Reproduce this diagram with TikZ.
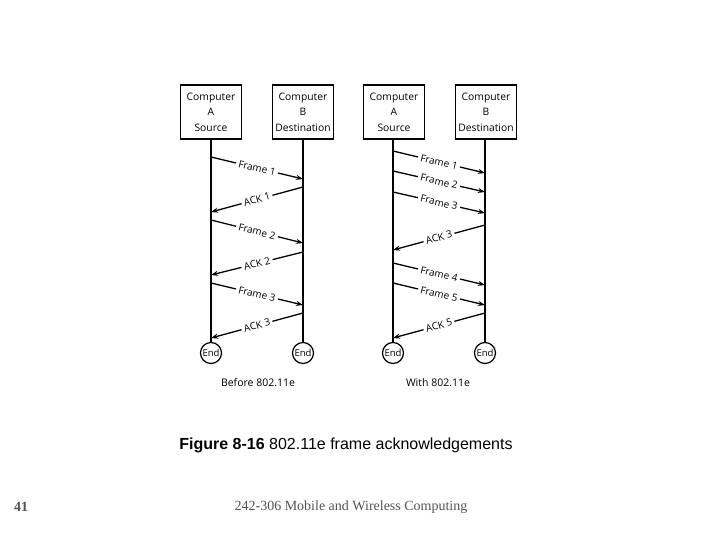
\documentclass[tikz,border=0pt]{standalone}
\usepackage{fontspec}
\setmainfont{Liberation Serif}
\newfontfamily\diagfont{Open Sans}
\newfontfamily\capfont{Liberation Sans}
\usetikzlibrary{arrows.meta}
\definecolor{footgray}{RGB}{90,82,82}
\tikzset{
  compbox/.style={draw, line width=1.6pt, minimum width=61pt, minimum height=54pt, align=center,
    font=\diagfont\fontsize{10.3}{15.5}\selectfont, inner sep=0pt},
  endnode/.style={draw, circle, line width=1.2pt, minimum size=21pt, inner sep=0pt,
    font=\diagfont\fontsize{9.5}{10}\selectfont},
  lifeline/.style={line width=1.5pt},
  msg/.style={line width=1.3pt, -{Stealth[length=7pt,width=5pt]}},
  msglabel/.style={midway, sloped, fill=white, inner xsep=2.5pt, inner ysep=0.5pt,
    font=\diagfont\fontsize{10}{10}\selectfont},
  subcap/.style={font=\diagfont\fontsize{10.5}{11}\selectfont},
}
\begin{document}
\begin{tikzpicture}[x=1pt,y=-1pt]
\useasboundingbox (0,0) rectangle (720,540);
% left diagram
\node[compbox] (lA) at (211,112) {Computer\\A\\Source};
\node[compbox] (lB) at (303,112) {Computer\\B\\Destination};
\node[endnode] (lAe) at (211,353) {End};
\node[endnode] (lBe) at (303,353) {End};
\draw[lifeline] (lA.south) -- (lAe.north);
\draw[lifeline] (lB.south) -- (lBe.north);
\coordinate (la1) at (211,157); \coordinate (lb1) at (303,179);
\coordinate (lb2) at (303,187); \coordinate (la2) at (211,212);
\coordinate (la3) at (211,220); \coordinate (lb3) at (303,243);
\coordinate (lb4) at (303,252); \coordinate (la4) at (211,275);
\coordinate (la5) at (211,283); \coordinate (lb5) at (303,305);
\coordinate (lb6) at (303,313); \coordinate (la6) at (211,338);
\draw[msg] (la1) -- node[msglabel]{Frame 1} (lb1);
\draw[msg] (lb2) -- node[msglabel]{ACK 1} (la2);
\draw[msg] (la3) -- node[msglabel]{Frame 2} (lb3);
\draw[msg] (lb4) -- node[msglabel]{ACK 2} (la4);
\draw[msg] (la5) -- node[msglabel]{Frame 3} (lb5);
\draw[msg] (lb6) -- node[msglabel]{ACK 3} (la6);
\node[subcap] (lcap) at (258,383) {Before 802.11e};
% right diagram
\node[compbox] (rA) at (394,112) {Computer\\A\\Source};
\node[compbox] (rB) at (486,112) {Computer\\B\\Destination};
\node[endnode] (rAe) at (393,353) {End};
\node[endnode] (rBe) at (485,353) {End};
\draw[lifeline] (rA.south -| rAe) -- (rAe.north);
\draw[lifeline] (rB.south -| rBe) -- (rBe.north);
\coordinate (ra1) at (393,151); \coordinate (rb1) at (485,173);
\coordinate (ra2) at (393,171); \coordinate (rb2) at (485,192);
\coordinate (ra3) at (393,192); \coordinate (rb3) at (485,213);
\coordinate (rb4) at (485,225); \coordinate (ra4) at (393,250);
\coordinate (ra5) at (393,263); \coordinate (rb5) at (485,285);
\coordinate (ra6) at (393,283); \coordinate (rb6) at (485,305);
\coordinate (rb7) at (485,313); \coordinate (ra7) at (393,338);
\draw[msg] (ra1) -- node[msglabel]{Frame 1} (rb1);
\draw[msg] (ra2) -- node[msglabel]{Frame 2} (rb2);
\draw[msg] (ra3) -- node[msglabel]{Frame 3} (rb3);
\draw[msg] (rb4) -- node[msglabel]{ACK 3} (ra4);
\draw[msg] (ra5) -- node[msglabel]{Frame 4} (rb5);
\draw[msg] (ra6) -- node[msglabel]{Frame 5} (rb6);
\draw[msg] (rb7) -- node[msglabel]{ACK 5} (ra7);
\node[subcap] (rcap) at (438,383) {With 802.11e};
% caption and footer
\node[font=\capfont\fontsize{16}{18}\selectfont] (fig) at (346,445) {\textbf{Figure 8-16} 802.11e frame acknowledgements};
\node[font=\fontsize{14}{16}\selectfont\bfseries, text=footgray] (pg) at (21,507) {41};
\node[font=\fontsize{14}{16}\selectfont, text=footgray] (foot) at (351,507) {242-306 Mobile and Wireless Computing};
\end{tikzpicture}
\end{document}
